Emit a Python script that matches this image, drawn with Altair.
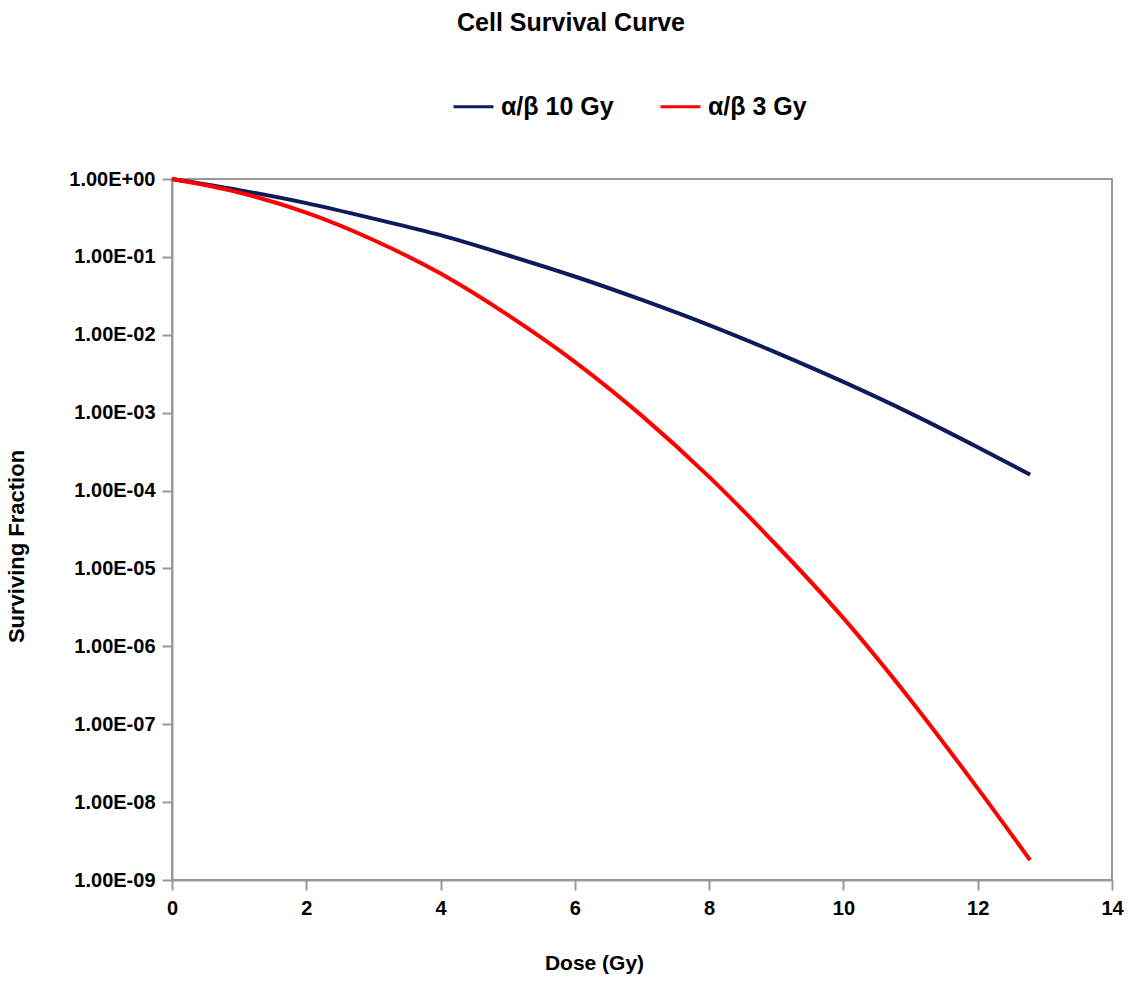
import altair as alt
import pandas as pd

dose = [0, 1, 2, 3, 4, 5, 6, 7, 8, 9, 10, 11, 12, 12.78]
sf_ab10 = [1.0, 0.72, 0.49, 0.31, 0.19, 0.105, 0.056, 0.028, 0.0133, 0.0059,
           0.00248, 0.00098, 0.00036, 0.00016]
sf_ab3 = [1.0, 0.67, 0.37, 0.165, 0.061, 0.018, 0.0045, 9.1e-4, 1.5e-4, 2.0e-5,
          2.3e-6, 2.05e-7, 1.5e-8, 1.8e-9]
series = ["α/β 10 Gy", "α/β 3 Gy"]
colors = ["#0d1b5c", "#ff0000"]
y_ticks = [1e-9, 1e-8, 1e-7, 1e-6, 1e-5, 1e-4, 1e-3, 1e-2, 1e-1, 1.0]
x_ticks = [0, 2, 4, 6, 8, 10, 12, 14]

rows = []
for d, v in zip(dose, sf_ab10):
    rows.append({"Dose": d, "SF": v, "Series": series[0]})
for d, v in zip(dose, sf_ab3):
    rows.append({"Dose": d, "SF": v, "Series": series[1]})
df = pd.DataFrame(rows)

FONT = "Liberation Sans"
exp = "round(log(datum.value)/LN10)"
label_expr = ("'1.00E' + (" + exp + " >= 0 ? '+' : '-') + (abs(" + exp + ") < 10 ? '0' : '') + abs(" + exp + ")")

chart = alt.Chart(df).mark_line(strokeWidth=4, interpolate="monotone").encode(
    x=alt.X("Dose:Q", scale=alt.Scale(domain=[0, 14], nice=False),
            axis=alt.Axis(values=x_ticks, title="Dose (Gy)", grid=False,
                          tickSize=10, labelPadding=8, titlePadding=34,
                          titleX=422, titleFontSize=21, labelFlush=False,
                          format="d")),
    y=alt.Y("SF:Q", scale=alt.Scale(type="log", domain=[1e-9, 1], nice=False),
            axis=alt.Axis(values=y_ticks, title="Surviving Fraction", grid=False,
                          tickSize=10, labelPadding=7, titlePadding=40,
                          titleY=367, titleFontSize=22,
                          labelExpr=label_expr)),
    color=alt.Color("Series:N", scale=alt.Scale(domain=series, range=colors),
                    legend=alt.Legend(title=None, orient="none", legendX=280, legendY=-94,
                                      direction="horizontal", columns=2,
                                      symbolType="stroke", symbolSize=1600,
                                      symbolStrokeWidth=3, columnPadding=40,
                                      labelOffset=6, labelFontSize=25,
                                      labelFont=FONT, labelFontWeight="bold",
                                      labelColor="#000000")),
    order="Series:N",
).properties(
    width=940,
    height=701,
    title=alt.Title("Cell Survival Curve", anchor="middle", dx=-71, offset=49,
                    fontSize=25, font=FONT, fontWeight="bold", color="#000000"),
    autosize=alt.AutoSizeParams(type="none"),
    padding={"left": 172, "top": 179, "right": 27, "bottom": 100},
).configure_view(
    stroke="#999999", strokeWidth=2
).configure_axis(
    labelFont=FONT, labelFontWeight="bold", labelFontSize=20, labelColor="#000000",
    titleFont=FONT, titleFontWeight="bold", titleColor="#000000",
    domainColor="#999999", domainWidth=2, tickColor="#999999", tickWidth=2,
)

chart.save("out.html", embed_options={"renderer": "svg", "actions": False})
